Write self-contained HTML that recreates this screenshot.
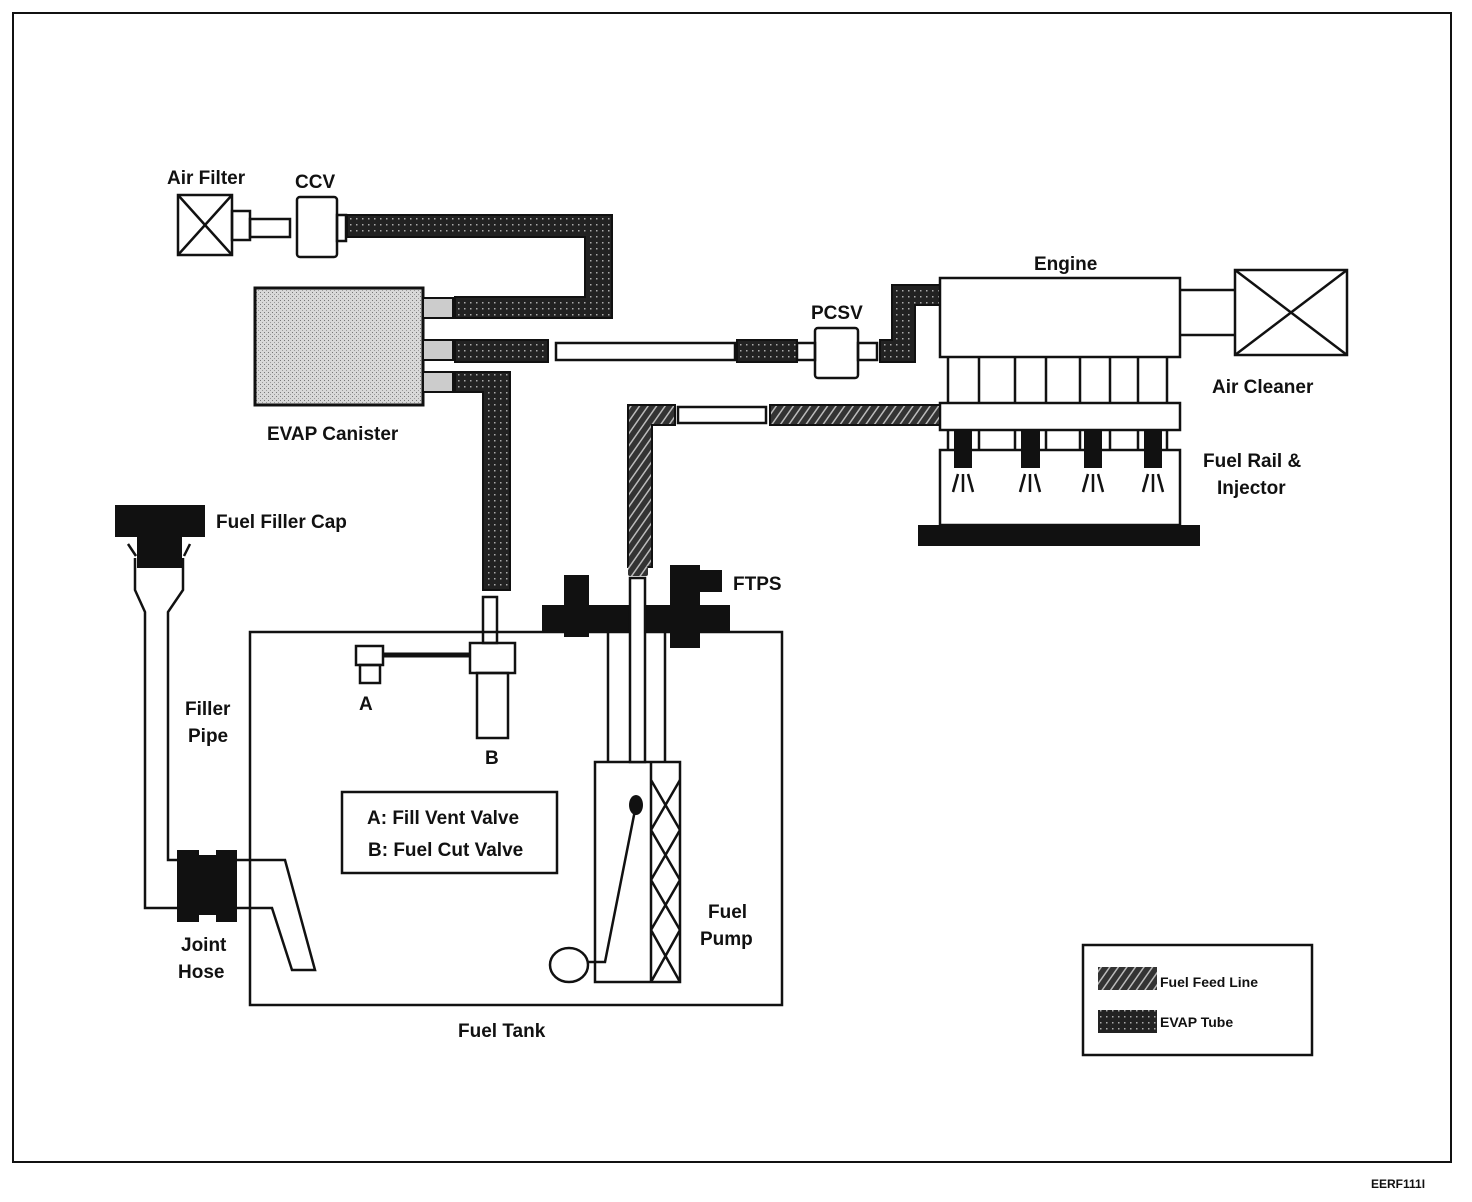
<!DOCTYPE html>
<html><head><meta charset="utf-8"><style>html,body{margin:0;padding:0;background:#fff}svg{display:block}text{font-family:"Liberation Sans",Arial,sans-serif;font-weight:bold;font-size:19px;fill:#111}</style></head><body>
<svg width="1472" height="1202" viewBox="0 0 1472 1202" xmlns="http://www.w3.org/2000/svg">
<defs>
<pattern id="dot" width="6" height="6" patternUnits="userSpaceOnUse"><rect width="6" height="6" fill="#222"/><rect x="2" y="2" width="1.5" height="1.5" fill="#aaa"/></pattern>
<pattern id="hat" width="7" height="7" patternUnits="userSpaceOnUse" patternTransform="rotate(35)"><rect width="7" height="7" fill="#333"/><rect width="1.5" height="7" fill="#bbb"/></pattern>
<pattern id="can" width="4" height="4" patternUnits="userSpaceOnUse"><rect width="4" height="4" fill="#d8d8d8"/><rect width="1" height="1" fill="#777"/><rect x="2" y="2" width="1" height="1" fill="#999"/></pattern>
</defs>
<g fill="none" stroke="#111" stroke-width="2.5">
<rect x="13" y="13" width="1438" height="1149" stroke-width="2"/>
<!-- air filter -->
<rect x="178" y="195" width="54" height="60"/><path d="M178 195L232 255M232 195L178 255"/>
<rect x="232" y="211" width="18" height="29"/><rect x="250" y="219" width="40" height="18"/>
<rect x="297" y="197" width="40" height="60" rx="3"/><rect x="337" y="215" width="9" height="26"/>
</g>
<!-- EVAP tubes -->
<path d="M347 215H612V318H455V297H585V237H347Z" fill="url(#dot)" stroke="#111" stroke-width="2"/>
<rect x="255" y="288" width="168" height="117" fill="url(#can)" stroke="#111" stroke-width="3"/>
<g fill="#ccc" stroke="#111" stroke-width="2"><rect x="423" y="298" width="30" height="20"/><rect x="423" y="340" width="30" height="20"/><rect x="423" y="372" width="30" height="20"/></g>
<rect x="455" y="340" width="93" height="22" fill="url(#dot)" stroke="#111" stroke-width="2"/>
<rect x="556" y="343" width="179" height="17" fill="#fff" stroke="#111" stroke-width="2.5"/>
<rect x="737" y="340" width="60" height="22" fill="url(#dot)" stroke="#111" stroke-width="2"/>
<g fill="none" stroke="#111" stroke-width="2.5"><rect x="797" y="343" width="18" height="17"/><rect x="815" y="328" width="43" height="50" rx="3"/><rect x="858" y="343" width="19" height="17"/></g>
<path d="M880 340H892V285H940V305H915V362H880Z" fill="url(#dot)" stroke="#111" stroke-width="2"/>
<path d="M455 372H510V590H483V392H455Z" fill="url(#dot)" stroke="#111" stroke-width="2"/>
<!-- engine -->
<g fill="none" stroke="#111" stroke-width="2.5">
<rect x="940" y="278" width="240" height="79"/>
<path d="M1180 290H1235M1180 335H1235"/>
<rect x="1235" y="270" width="112" height="85"/><path d="M1235 270L1347 355M1347 270L1235 355"/>
<path d="M948 357V403M979 357V403M1015 357V403M1046 357V403M1080 357V403M1110 357V403M1138 357V403M1167 357V403"/>
<rect x="940" y="403" width="240" height="27"/>
<path d="M948 430V450M979 430V450M1015 430V450M1046 430V450M1080 430V450M1110 430V450M1138 430V450M1167 430V450"/>
<rect x="940" y="450" width="240" height="75"/>
</g>
<g fill="#111"><rect x="954" y="430" width="18" height="38"/><rect x="1021" y="430" width="19" height="38"/><rect x="1084" y="430" width="18" height="38"/><rect x="1144" y="430" width="18" height="38"/>
<rect x="918" y="525" width="282" height="21"/></g>
<g stroke="#111" stroke-width="2.5" fill="none">
<path d="M958 474L953 492M963 474V492M968 474L973 492"/><path d="M1025 474L1020 492M1030 474V492M1035 474L1040 492"/><path d="M1088 474L1083 492M1093 474V492M1098 474L1103 492"/><path d="M1148 474L1143 492M1153 474V492M1158 474L1163 492"/>
</g>
<!-- fuel feed -->
<rect x="770" y="405" width="170" height="20" fill="url(#hat)" stroke="#111" stroke-width="2"/>
<rect x="678" y="407" width="88" height="16" fill="#fff" stroke="#111" stroke-width="2.5"/>
<path d="M628 405H675V425H652V567H628Z" fill="url(#hat)" stroke="#111" stroke-width="2"/>
<!-- tank -->
<g fill="none" stroke="#111" stroke-width="2.5">
<path d="M250 1005V632H782V1005Z"/>
<rect x="483" y="597" width="14" height="46"/><rect x="470" y="643" width="45" height="30"/><rect x="477" y="673" width="31" height="65"/>
<rect x="356" y="646" width="27" height="19"/><rect x="360" y="665" width="20" height="18"/>
<path d="M383 655H470" stroke-width="5"/>
<rect x="342" y="792" width="215" height="81"/>
<path d="M608 632V762M665 632V762"/>
<rect x="595" y="762" width="85" height="220"/><path d="M651 762V982M651 780L680 830M680 780L651 830M651 830L680 880M680 830L651 880M651 880L680 930M680 880L651 930M651 930L680 982M680 930L651 982"/>
<path d="M636 805L605 962H588"/><ellipse cx="569" cy="965" rx="19" ry="17"/>
</g>
<ellipse cx="636" cy="805" rx="7" ry="10" fill="#111"/>
<g fill="#111"><rect x="542" y="605" width="188" height="27"/><rect x="564" y="575" width="25" height="62"/><rect x="670" y="565" width="30" height="83"/><rect x="698" y="570" width="24" height="22"/></g>
<rect x="630" y="578" width="15" height="184" fill="#fff" stroke="#111" stroke-width="2.5"/>
<rect x="628" y="566" width="20" height="10" rx="2" fill="url(#hat)"/>
<!-- filler -->
<g fill="#111"><rect x="115" y="505" width="90" height="32"/><rect x="137" y="537" width="45" height="31"/>
<rect x="177" y="855" width="60" height="60"/><rect x="177" y="850" width="22" height="72"/><rect x="216" y="850" width="21" height="72"/></g>
<g fill="none" stroke="#111" stroke-width="2.5">
<path d="M135 558V590L145 612V908H177"/><path d="M183 558V590L168 612V860H177"/>
<path d="M128 544L136 556M190 544L184 556"/>
<path d="M237 860H285L315 970H292L272 908H237"/>
</g>
<!-- legend -->
<rect x="1083" y="945" width="229" height="110" fill="none" stroke="#111" stroke-width="2.5"/>
<rect x="1098" y="967" width="59" height="23" fill="url(#hat)"/><rect x="1098" y="1010" width="59" height="23" fill="url(#dot)"/>
<text x="1160" y="987" style="font-size:14px">Fuel Feed Line</text>
<text x="1160" y="1027" style="font-size:14px">EVAP Tube</text>
<!-- labels -->
<text x="167" y="184">Air Filter</text>
<text x="295" y="188">CCV</text>
<text x="267" y="440">EVAP Canister</text>
<text x="811" y="319">PCSV</text>
<text x="1034" y="270">Engine</text>
<text x="1212" y="393">Air Cleaner</text>
<text x="1203" y="467">Fuel Rail &amp;</text>
<text x="1217" y="494">Injector</text>
<text x="216" y="528">Fuel Filler Cap</text>
<text x="733" y="590">FTPS</text>
<text x="185" y="715">Filler</text>
<text x="188" y="742">Pipe</text>
<text x="359" y="710">A</text>
<text x="485" y="764">B</text>
<text x="367" y="824">A: Fill Vent Valve</text>
<text x="368" y="856">B: Fuel Cut Valve</text>
<text x="708" y="918">Fuel</text>
<text x="700" y="945">Pump</text>
<text x="181" y="951">Joint</text>
<text x="178" y="978">Hose</text>
<text x="458" y="1037">Fuel Tank</text>
<text x="1371" y="1188" style="font-size:12px">EERF111I</text>
</svg>
</body></html>
